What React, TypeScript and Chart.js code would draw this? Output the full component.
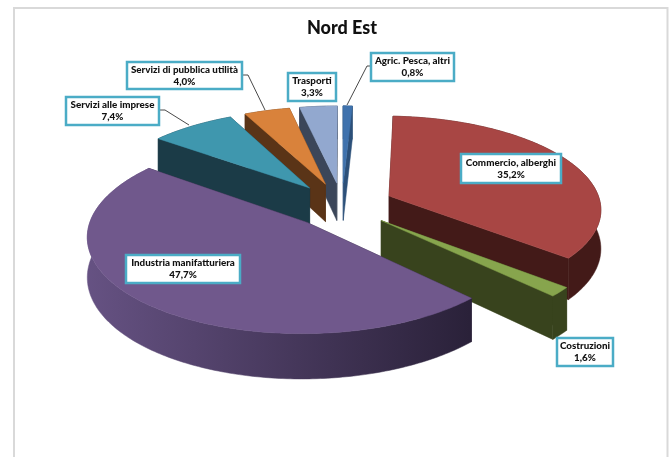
import React, { useEffect, useRef } from "react";
import { Chart, registerables } from "chart.js";

Chart.register(...registerables);

const categories = [
  "Agric. Pesca, altri",
  "Commercio, alberghi",
  "Costruzioni",
  "Industria manifatturiera",
  "Servizi alle imprese",
  "Servizi di pubblica utilità",
  "Trasporti",
];
const shares = [0.8, 35.2, 1.6, 47.7, 7.4, 4.0, 3.3];
const chartTitle = "Nord Est";

const topColors = ["#3f72ad", "#a84644", "#87a54d", "#70588c", "#3f97ae", "#d9823b", "#92a8cf"];
const sideColors = ["#2c5079", "#431a18", "#38431d", "#2a2139", "#1b3b47", "#5a3417", "#3b4659"];
const sideLightColors = ["#2c5079", "#431a18", "#38431d", "#665283", "#1b3b47", "#5a3417", "#3b4659"];
const paintOrder = [0, 6, 5, 4, 1, 2, 3];

// label boxes: x, y, w, h in page pixels, in category order
const labelBoxes = [
  [371, 53, 83, 28],
  [461, 154, 100, 29],
  [557, 338, 56, 28],
  [126, 255, 114, 28],
  [66, 97, 93, 28],
  [127, 62, 115, 27],
  [288, 73, 48, 28],
];
const leaderLines: (number[][] | null)[] = [
  [[371, 66], [367, 66], [347, 105]],
  null,
  null,
  null,
  [[159, 110], [165, 110], [189, 125]],
  [[242, 75], [248, 75], [265, 110]],
  null,
];

const CX = 342;
const CY = 205;
const RADIUS = 212;
const EXPLODE = 52;
const SQUASH = 0.435;
const PERSPECTIVE = 0.0006;
const DEPTH = 38.5;

const project = (X: number, Y: number, down = 0) => {
  const s = 1 / (1 + PERSPECTIVE * Y);
  return [CX + X * s, CY - SQUASH * Y * s + down * s];
};

const poly = (ctx: CanvasRenderingContext2D, pts: number[][], fill: any) => {
  ctx.beginPath();
  pts.forEach((p, i) => (i ? ctx.lineTo(p[0], p[1]) : ctx.moveTo(p[0], p[1])));
  ctx.closePath();
  ctx.fillStyle = fill;
  ctx.strokeStyle = fill;
  ctx.lineWidth = 0.5;
  ctx.fill();
  ctx.stroke();
};

const pie3d = {
  id: "pie3d",
  beforeDraw(chart: any) {
    const { ctx } = chart;
    ctx.save();
    ctx.fillStyle = "#ffffff";
    ctx.fillRect(0, 0, chart.width, chart.height);
    ctx.strokeStyle = "#d9d9d9";
    ctx.lineWidth = 2;
    ctx.strokeRect(14, 8, 653.5, 470);
    ctx.restore();
  },
  beforeDatasetDraw(chart: any, args: any) {
    const { ctx } = chart;
    const arcs = args.meta.data;
    ctx.save();
    paintOrder.forEach((i) => {
      const a0 = arcs[i].startAngle + Math.PI / 2;
      const a1 = arcs[i].endAngle + Math.PI / 2;
      const mid = (a0 + a1) / 2;
      const ox = EXPLODE * Math.sin(mid);
      const oy = EXPLODE * Math.cos(mid);
      const steps = Math.max(2, Math.ceil((a1 - a0) / 0.015));
      const rim: number[][] = [];
      for (let k = 0; k <= steps; k++) {
        const t = a0 + ((a1 - a0) * k) / steps;
        rim.push([ox + RADIUS * Math.sin(t), oy + RADIUS * Math.cos(t)]);
      }
      const apex = [ox, oy];
      const grad = ctx.createLinearGradient(85, 0, 470, 0);
      grad.addColorStop(0, sideLightColors[i]);
      grad.addColorStop(1, sideColors[i]);
      const first = rim[0];
      const last = rim[rim.length - 1];
      const up = (p: number[]) => project(p[0], p[1]);
      const low = (p: number[]) => project(p[0], p[1], DEPTH);
      const faces = [
        { y: (apex[1] + first[1]) / 2, pts: [up(apex), up(first), low(first), low(apex)], fill: sideColors[i] },
        { y: (apex[1] + last[1]) / 2, pts: [up(apex), up(last), low(last), low(apex)], fill: sideColors[i] },
        {
          y: rim.reduce((s, p) => s + p[1], 0) / rim.length,
          pts: [...rim.map(up), ...rim.slice().reverse().map(low)],
          fill: grad,
        },
      ];
      faces.sort((p, q) => q.y - p.y).forEach((f) => poly(ctx, f.pts, f.fill));
      poly(ctx, [up(apex), ...rim.map(up)], topColors[i]);
    });
    ctx.restore();
    return false;
  },
  afterDraw(chart: any) {
    const { ctx } = chart;
    ctx.save();
    leaderLines.forEach((line) => {
      if (!line) return;
      ctx.beginPath();
      line.forEach((p, i) => (i ? ctx.lineTo(p[0], p[1]) : ctx.moveTo(p[0], p[1])));
      ctx.strokeStyle = "#1a1a1a";
      ctx.lineWidth = 0.8;
      ctx.stroke();
    });
    categories.forEach((name, i) => {
      const [x, y, w, h] = labelBoxes[i];
      ctx.fillStyle = "#ffffff";
      ctx.fillRect(x, y, w, h);
      ctx.strokeStyle = "#4bacc6";
      ctx.lineWidth = 2.5;
      ctx.strokeRect(x, y, w, h);
      ctx.fillStyle = "#111111";
      ctx.font = "900 9.8px Lato, 'Noto Sans', sans-serif";
      ctx.textAlign = "center";
      ctx.textBaseline = "middle";
      ctx.fillText(name, x + w / 2, y + h / 2 - 6);
      ctx.fillText(`${shares[i].toFixed(1).replace(".", ",")}%`, x + w / 2, y + h / 2 + 6);
    });
    ctx.restore();
  },
};

export default function App() {
  const ref = useRef<HTMLCanvasElement>(null);
  useEffect(() => {
    const chart = new Chart(ref.current!, {
      type: "pie",
      data: {
        labels: categories,
        datasets: [{ data: shares, backgroundColor: topColors, borderWidth: 0 }],
      },
      options: {
        animation: false,
        responsive: false,
        layout: { padding: { left: 15 } },
        plugins: {
          legend: { display: false },
          tooltip: { enabled: false },
          title: {
            display: true,
            text: chartTitle,
            color: "#111111",
            font: { family: "Lato, 'Noto Sans', sans-serif", size: 18, weight: "900" },
            padding: { top: 17, bottom: 10 },
          },
        },
      },
      plugins: [pie3d],
    } as any);
    return () => chart.destroy();
  }, []);
  return (
    <div style={{ position: "fixed", left: 0, top: 0, width: 669, height: 457, overflow: "hidden" }}>
      <canvas ref={ref} width={669} height={457} style={{ display: "block" }} />
    </div>
  );
}
